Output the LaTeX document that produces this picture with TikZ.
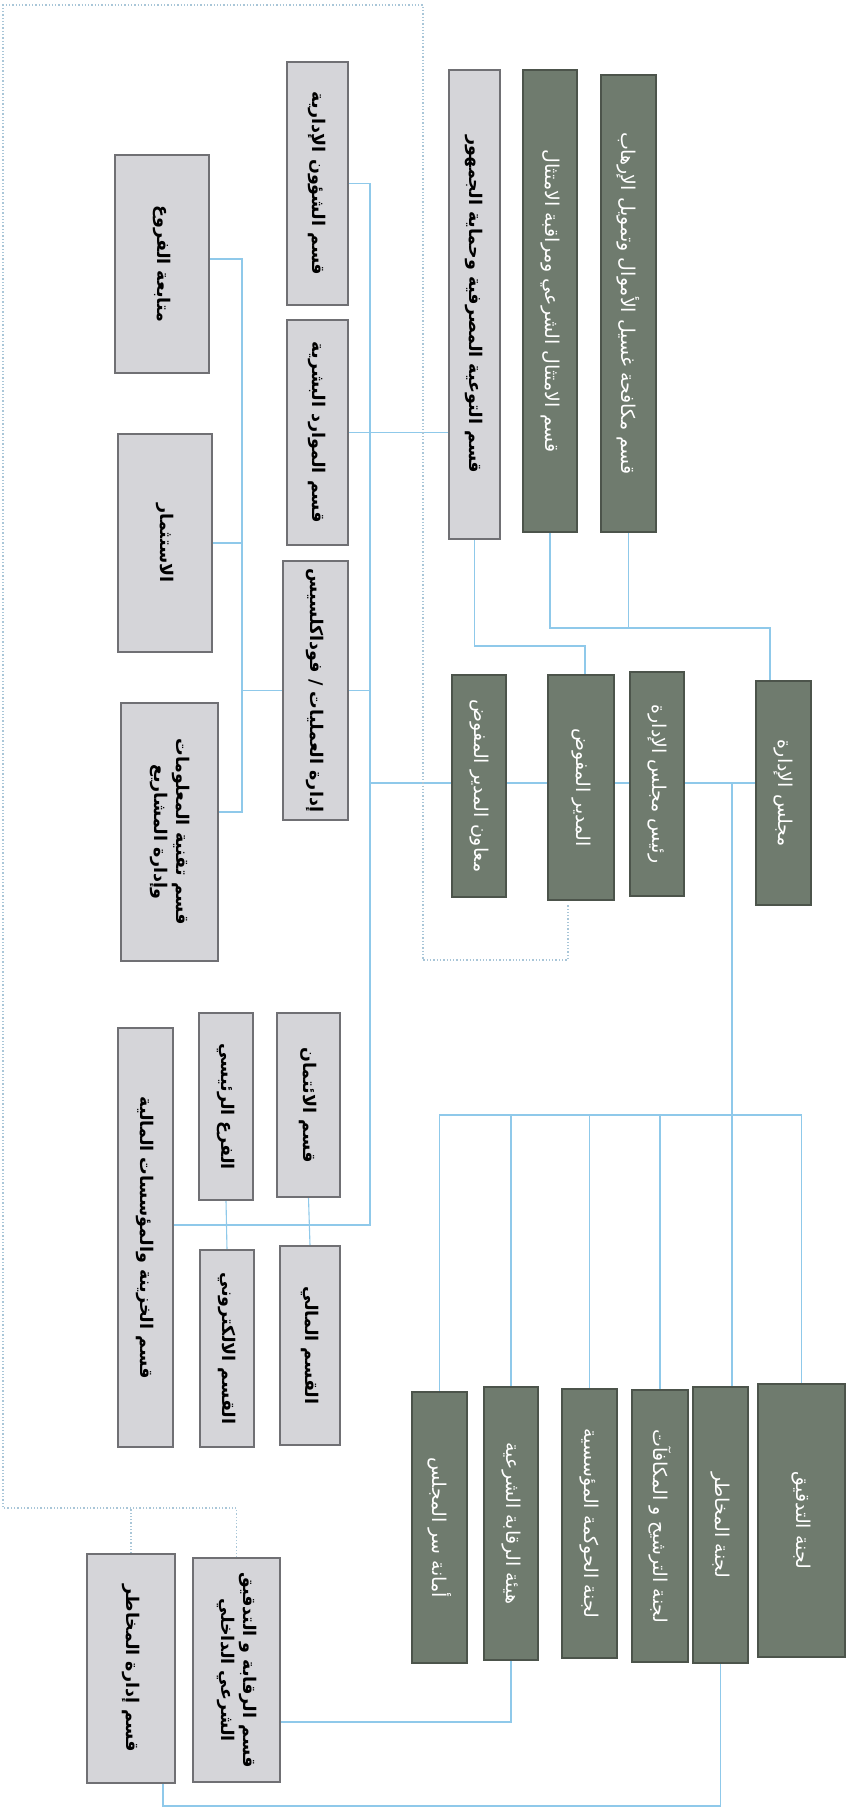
\documentclass[tikz,border=0pt]{standalone}
\usepackage{fontspec}
\usepackage{graphicx}
\usetikzlibrary{positioning,backgrounds}
\newfontfamily\arfont[Script=Arabic]{DejaVu Sans}
\TeXXeTstate=1
\definecolor{BoardGrey}{HTML}{6F7B6E}
\definecolor{BoardEdge}{HTML}{4C544B}
\definecolor{UnitGrey}{HTML}{D5D5D9}
\definecolor{UnitEdge}{HTML}{707074}
\definecolor{LinkBlue}{HTML}{8FC9EA}
\definecolor{FrameBlue}{HTML}{A9C6D8}
\newcommand{\vlab}[1]{\rotatebox{-90}{\beginR #1\endR}}
\newcommand{\vlabtwo}[2]{\rotatebox{-90}{\begin{tabular}{@{}c@{}}#1\\#2\end{tabular}}}

\begin{document}
\begin{tikzpicture}[x=1pt,y=-1pt,
  wh/.style 2 args={minimum width=#1pt,minimum height=#2pt},
  board/.style={draw=BoardEdge,fill=BoardGrey,text=white,line width=1.2pt,inner sep=0pt,font=\arfont\fontsize{19}{23}\selectfont},
  unit/.style={draw=UnitEdge,fill=UnitGrey,text=black,line width=1.2pt,inner sep=0pt,font=\arfont\bfseries\fontsize{17.5}{22}\selectfont},
  link/.style={draw=LinkBlue,line width=1.1pt},
  frame/.style={draw=FrameBlue,dotted,line width=1.3pt}]
\useasboundingbox (0,0) rectangle (853,1813);
% board column
\node[board,wh={55}{224}] (majlis) at (783.5,793) {\vlab{مجلس الإدارة}};
\node[board,wh={54}{224}] (raees) at (657,784) {\vlab{رئيس مجلس الإدارة}};
\node[board,wh={66}{225}] (mudeer) at (581,787.5) {\vlab{المدير المفوض}};
\node[board,wh={54}{222}] (muawin) at (479,786) {\vlab{معاون المدير المفوض}};
% top units
\node[board,wh={55}{457}] (aml) at (628.5,303.5) {\vlab{قسم مكافحة غسيل الأموال وتمويل الإرهاب}};
\node[board,wh={54}{462}] (shar) at (550,301) {\vlab{قسم الامتثال الشرعي ومراقبة الامتثال}};
\node[unit,wh={51}{469}] (tawia) at (474.5,304.5) {\vlab{قسم التوعية المصرفية وحماية الجمهور}};
\node[unit,wh={61}{243}] (shuun) at (317.5,183.5) {\vlab{قسم الشؤون الإدارية}};
\node[unit,wh={61}{225}] (mawared) at (317.5,432.5) {\vlab{قسم الموارد البشرية}};
\node[unit,wh={65}{259}] (amaliyat) at (315.5,690.5) {\vlab{إدارة العمليات / فوداكلسيس}};
\node[unit,wh={94}{218}] (mutabaa) at (162,264) {\vlab{متابعة الفروع}};
\node[unit,wh={94}{218}] (istithmar) at (165,543) {\vlab{الاستثمار}};
\node[unit,wh={97}{258}] (taqnia) at (169.5,832) {\vlabtwo{\beginR قسم تقنية المعلومات\endR}{\beginR وإدارة المشاريع\endR}};
% branches
\node[unit,wh={63}{184}] (itiman) at (308.5,1105) {\vlab{قسم الائتمان}};
\node[unit,wh={54}{187}] (far3) at (226,1106.5) {\vlab{الفرع الرئيسي}};
\node[unit,wh={55}{419}] (khazina) at (145.5,1237.5) {\vlab{قسم الخزينة والمؤسسات المالية}};
\node[unit,wh={60}{199}] (mali) at (310,1345.5) {\vlab{القسم المالي}};
\node[unit,wh={54}{197}] (elec) at (227,1348.5) {\vlab{القسم الالكتروني}};
% committees
\node[board,wh={55}{271}] (amana) at (439.5,1527.5) {\vlab{أمانة سر المجلس}};
\node[board,wh={54}{273}] (hayaa) at (511,1523.5) {\vlab{هيئة الرقابة الشرعية}};
\node[board,wh={55}{269}] (hawkama) at (589.5,1523.5) {\vlab{لجنة الحوكمة المؤسسية}};
\node[board,wh={56}{272}] (tarshih) at (660,1526) {\vlab{لجنة الترشيح و المكافآت}};
\node[board,wh={55}{276}] (lmakhatir) at (720.5,1525) {\vlab{لجنة المخاطر}};
\node[board,wh={87}{273}] (tadqiq) at (801.5,1520.5) {\vlab{لجنة التدقيق}};
\node[unit,wh={87}{224}] (riqaba) at (236.5,1670) {\vlabtwo{\beginR قسم الرقابة و التدقيق\endR}{\beginR الشرعي الداخلي\endR}};
\node[unit,wh={88}{229}] (qmakhatir) at (131,1668.5) {\vlab{قسم إدارة المخاطر}};

\coordinate (sp) at (370,783);
\coordinate (vmb) at (370,1225);
\coordinate (vlt) at (242,259);
\coordinate (vlb) at (242,812);
\coordinate (tb) at (770,628);
\coordinate (tw) at (585,646);
\coordinate (cj) at (732,783);
\coordinate (cb) at (732,1115);
\coordinate (rq) at (500,1722);
\coordinate (mk) at (163,1806);
\coordinate (fr) at (3,1508);

\begin{scope}[on background layer]
\draw[link] (sp) -- (sp -| majlis.west);
\draw[link] (shuun.east) -| (vmb) -- (vmb -| khazina.east);
\draw[link] (mawared.east) -- (mawared.east -| tawia.west);
\draw[link] (amaliyat.east) -- (amaliyat.east -| vmb);
\draw[link] (mutabaa.east |- vlt) -- (vlt) -- (vlb) -- (vlb -| taqnia.east);
\draw[link] (istithmar.east) -- (istithmar.east -| vlt);
\draw[link] (amaliyat.west) -- (amaliyat.west -| vlt);
\draw[link] (shar.south) |- (tb) -- (tb |- majlis.north);
\draw[link] (aml.south) -- (aml.south |- tb);
\draw[link] (tawia.south) |- (tw) -- (tw |- mudeer.north);
\draw[link] (far3.south) -- (elec.north);
\draw[link] (itiman.south) -- (mali.north);
\draw[link] (cj) -- (cj |- lmakhatir.north);
\draw[link] (amana.north) |- (cb -| tadqiq.north) -- (tadqiq.north);
\foreach \c in {hayaa,hawkama,tarshih}
  \draw[link] (\c.north) -- (\c.north |- cb);
\draw[link] (hayaa.south) -- (hayaa.south |- rq) -- (rq -| riqaba.east);
\draw[link] (lmakhatir.south) -- (lmakhatir.south |- mk) -- (mk) -- (mk |- qmakhatir.south);
% dotted frame
\draw[frame] (qmakhatir.north) -- (qmakhatir.north |- fr);
\draw[frame] (riqaba.north) |- (fr) -- (3,5) -- (423,5) -- (423,960) -- (568,960) -- (568,905);
\end{scope}
\end{tikzpicture}
\end{document}
